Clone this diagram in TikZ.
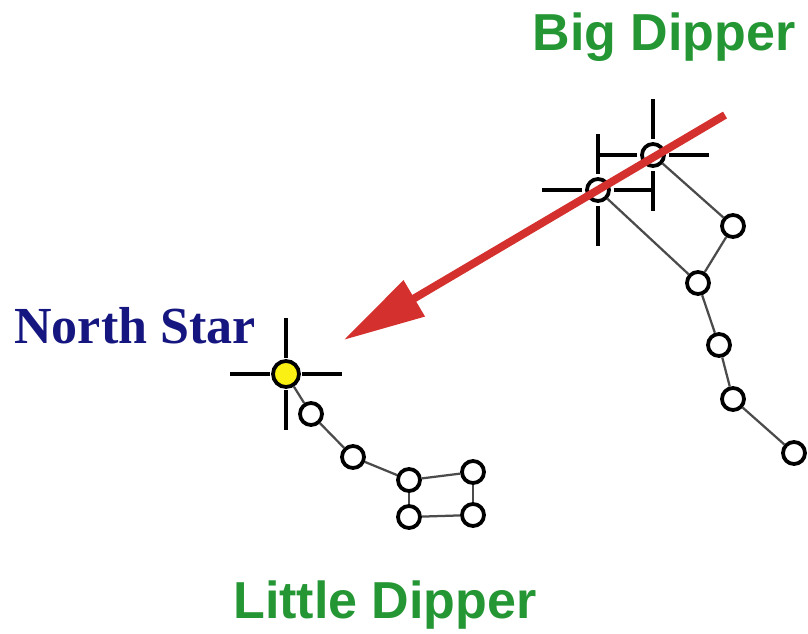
\documentclass[tikz,border=0pt]{standalone}
\usepackage{fontspec}
\usepackage{tikz}
\usetikzlibrary{arrows.meta,calc}
\newfontfamily\dipperfont{Liberation Sans}
\newfontfamily\polefont{Liberation Serif}
\definecolor{skyedge}{RGB}{75,75,75}
\definecolor{skygreen}{RGB}{36,150,52}
\definecolor{skynavy}{RGB}{22,22,128}
\definecolor{skyred}{RGB}{212,48,46}
\definecolor{skyyellow}{RGB}{250,240,20}
\tikzset{
  star/.style={
    circle, draw=black, fill=white, line width=2.7pt,
    minimum size=0.55cm, inner sep=0pt
  },
  pole/.style={star, fill=skyyellow, minimum size=0.65cm},
  link/.style={draw=skyedge, line width=1.6pt},
  cross/.style={draw=black, line width=2.8pt},
  pointer/.style={
    -{Triangle[length=2.05cm,width=1cm]}, draw=skyred, fill=skyred,
    line width=5.6pt, shorten >=1.3cm
  },
  dipper/.style={font=\dipperfont\bfseries\fontsize{37}{40}\selectfont, text=skygreen, anchor=base},
  polelabel/.style={font=\polefont\bfseries\fontsize{37}{40}\selectfont, text=skynavy, anchor=base}
}
\begin{document}
\begin{tikzpicture}[x=0.025cm, y=-0.025cm]
  \useasboundingbox (0,0) rectangle (808,633);
  % labels
  \node[dipper] (bigname) at (664,50) {Big Dipper};
  \node[dipper] (littlename) at (385,618) {Little Dipper};
  \node[polelabel] (polename) at (135,343) {North Star};
  % big dipper
  \node[star] (dubhe) at (653,155) {};
  \node[star] (merak) at (598,190) {};
  \node[star] (phecda) at (733,226) {};
  \node[star] (megrez) at (698,283) {};
  \node[star] (alioth) at (719,345) {};
  \node[star] (mizar) at (733,399) {};
  \node[star] (alkaid) at (794,453) {};
  \draw[link] (dubhe) -- (phecda);
  \draw[link] (merak) -- (megrez);
  \draw[link] (phecda) -- (megrez);
  \draw[link] (megrez) -- (alioth);
  \draw[link] (alioth) -- (mizar);
  \draw[link] (mizar) -- (alkaid);
  % little dipper
  \node[pole] (polaris) at (286,374) {};
  \node[star] (yildun) at (311,414) {};
  \node[star] (epsumi) at (353,457) {};
  \node[star] (zetumi) at (409,480) {};
  \node[star] (etaumi) at (473,472) {};
  \node[star] (pherkad) at (473,515) {};
  \node[star] (kochab) at (409,517) {};
  \draw[link] (polaris) -- (yildun);
  \draw[link] (yildun) -- (epsumi);
  \draw[link] (epsumi) -- (zetumi);
  \draw[link] (zetumi) -- (etaumi);
  \draw[link] (etaumi) -- (pherkad);
  \draw[link] (pherkad) -- (kochab);
  \draw[link] (kochab) -- (zetumi);
  % crosshairs
  \foreach \s in {dubhe,merak,polaris}
    \foreach \a in {0,90,180,270}
      \draw[cross] ($(\s)+(\a:16)$) -- ($(\s)+(\a:56)$);
  % pointer stars to polaris
  \coordinate (tail) at (725,115);
  \draw[pointer] (tail) -- (polaris);
\end{tikzpicture}
\end{document}
